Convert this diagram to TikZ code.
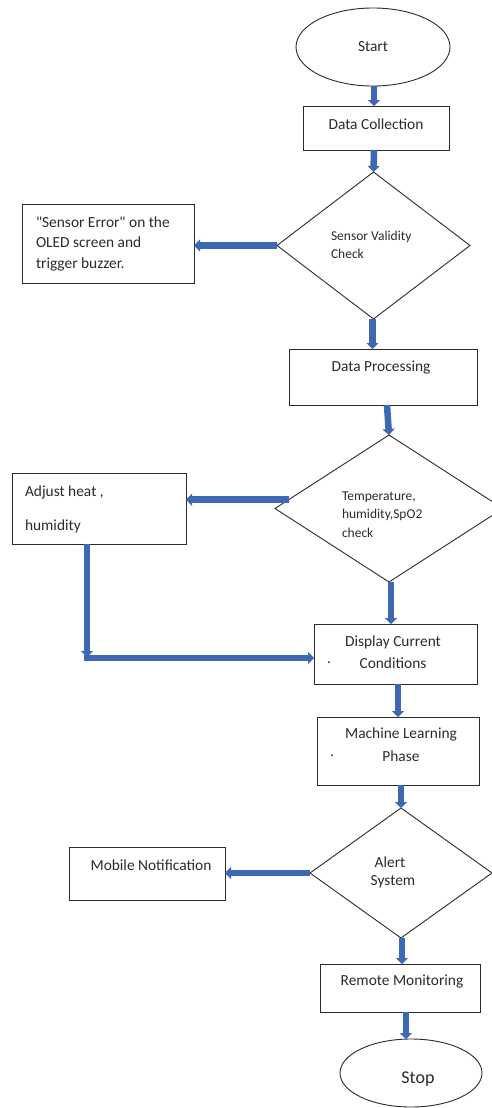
\documentclass[tikz,border=0pt]{standalone}
\usepackage{fontspec}
\setmainfont{Carlito}
\usetikzlibrary{shapes.geometric,arrows.meta,calc}
\definecolor{flowblue}{HTML}{3E67B4}
\definecolor{inkgray}{HTML}{2B2B2B}
\begin{document}
\begin{tikzpicture}[x=1pt,y=-1pt,
  every node/.style={inner sep=0pt,outer sep=0pt,text=inkgray},
  boxnode/.style={draw=inkgray,line width=0.9pt,rectangle,fill=white},
  dianode/.style={draw=inkgray,line width=0.9pt,diamond,fill=white},
  ellnode/.style={draw=inkgray,line width=0.9pt,ellipse,fill=white},
  maintext/.style={font=\fontsize{15.4}{18}\selectfont},
  smalltext/.style={font=\fontsize{13.5}{18}\selectfont},
  flow/.style={draw=flowblue,line width=6.5pt,-{Triangle[width=12pt,length=6pt]}},
  flowplain/.style={draw=flowblue,line width=6.5pt}
]
\useasboundingbox (0,0) rectangle (492,1108);
\fill[white] (0,0) rectangle (492,1108);

% shapes
\node[ellnode,minimum width=154pt,minimum height=78pt] (start) at (373,47) {};
\node[boxnode,minimum width=146pt,minimum height=44pt] (dc) at (376,128) {};
\node[dianode,minimum width=193pt,minimum height=147pt] (sv) at (373.5,245.5) {};
\node[boxnode,minimum width=172pt,minimum height=79pt] (err) at (108,243.5) {};
\node[boxnode,minimum width=188pt,minimum height=56pt] (dp) at (383,377) {};
\node[dianode,minimum width=228pt,minimum height=147pt] (th) at (389,508.5) {};
\node[boxnode,minimum width=174pt,minimum height=71pt] (adj) at (99,508.5) {};
\node[boxnode,minimum width=163pt,minimum height=60pt] (disp) at (395.5,654) {};
\node[boxnode,minimum width=162pt,minimum height=68pt] (ml) at (398,751) {};
\node[dianode,minimum width=182pt,minimum height=130pt] (alert) at (401,873) {};
\node[boxnode,minimum width=156pt,minimum height=53pt] (mob) at (147,873.5) {};
\node[boxnode,minimum width=160pt,minimum height=48pt] (rm) at (400,988) {};
\node[ellnode,minimum width=142pt,minimum height=68pt] (stop) at (411,1073) {};

% texts
\node[maintext] (tstart) at (373,47) {Start};
\node[maintext] (tdc) at (376,124) {Data Collection};
\node[smalltext,anchor=west] (tsv1) at (331,237) {Sensor Validity};
\node[smalltext,anchor=west] (tsv2) at (331,254) {Check};
\node[maintext,anchor=west] (terr1) at (36,222) {\textquotedbl Sensor Error\textquotedbl{} on the};
\node[maintext,anchor=west] (terr2) at (36,242) {OLED screen and};
\node[maintext,anchor=west] (terr3) at (36,264) {trigger buzzer.};
\node[maintext] (tdp) at (381,368) {Data Processing};
\node[smalltext,anchor=west] (tth1) at (342,497) {Temperature,};
\node[smalltext,anchor=west] (tth2) at (342,515) {humidity,SpO2};
\node[smalltext,anchor=west] (tth3) at (342,533) {check};
\node[maintext,anchor=west] (tadj1) at (25,492) {Adjust heat ,};
\node[maintext,anchor=west] (tadj2) at (25,526) {humidity};
\node[maintext] (tdisp1) at (393,642) {Display Current};
\node[maintext] (tdisp2) at (393,663) {Conditions};
\node[maintext] (tdispdot) at (329,663) {.};
\node[maintext] (tml1) at (401,734) {Machine Learning};
\node[maintext] (tml2) at (401,756) {Phase};
\node[maintext] (tmldot) at (332,756) {.};
\node[maintext] (tal1) at (390,862) {Alert};
\node[maintext] (tal2) at (393,882) {System};
\node[maintext] (tmob) at (151,865) {Mobile Notification};
\node[maintext] (trm) at (402,982) {Remote Monitoring};
\node[font=\fontsize{18}{20}\selectfont] (tstop) at (418,1079) {Stop};

% connector helper points
\coordinate (thout) at ($(th.west)!0.12!(th.north)$);
\coordinate (adjdown) at ($(adj.south)+(-12,0)$);
\coordinate (corner) at (87,658);
\coordinate (a1) at ($(start.south)+(1,0)$);
\coordinate (a2) at ($(dc.south)+(-2,0)$);
\coordinate (a3) at ($(sv.south)+(-1,0)$);
\coordinate (a4) at ($(dp.south)+(4,0)$);
\coordinate (a5) at ($(th.south)+(2,0)$);
\coordinate (a6) at ($(disp.south)+(2.5,0)$);
\coordinate (a7) at ($(ml.south)+(3,0)$);
\coordinate (a8) at ($(alert.south)+(1,0)$);
\coordinate (a9) at ($(rm.south)+(6,0)$);
\coordinate (cornerup) at ($(corner)+(0,-1)$);
\coordinate (cornerleft) at ($(corner)+(-3.25,0)$);

\draw[flow] (a1) -- (a1 |- dc.north);
\draw[flow] (a2) -- (sv.north);
\draw[flow] (sv.west) -- (sv.west -| err.east);
\draw[flow] (a3) -- (a3 |- dp.north);
\draw[flow] (a4) -- (th.north);
\draw[flow] (thout) -- (thout -| adj.east);
\draw[flow] (adjdown) -- (cornerup);
\draw[flow] (cornerleft) -- (corner -| disp.west);
\draw[flow] (a5) -- (a5 |- disp.north);
\draw[flow] (a6) -- (a6 |- ml.north);
\draw[flow] (a7) -- (alert.north);
\draw[flow] (alert.west) -- (alert.west -| mob.east);
\draw[flow] (a8) -- (a8 |- rm.north);
\draw[flow] (a9) -- (a9 |- stop.north);
\end{tikzpicture}
\end{document}
